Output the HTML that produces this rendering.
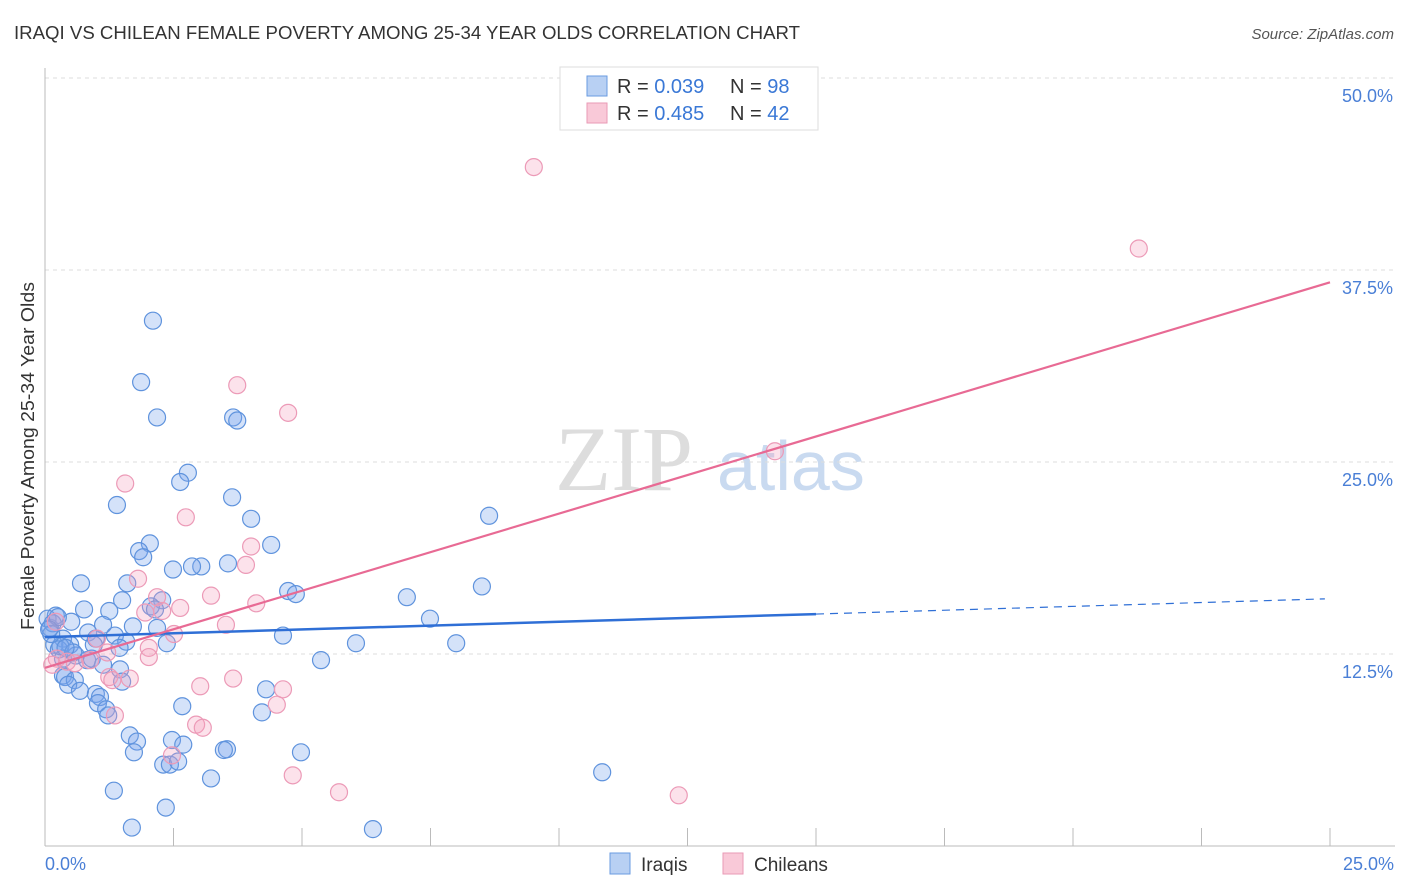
<!DOCTYPE html>
<html><head><meta charset="utf-8"><style>
body{margin:0;background:#fff;font-family:"Liberation Sans",sans-serif;}
svg{display:block}
</style></head><body>
<svg id="chart" width="1406" height="892">
<text x="14" y="39" font-size="18" fill="#333" textLength="786" lengthAdjust="spacingAndGlyphs">IRAQI VS CHILEAN FEMALE POVERTY AMONG 25-34 YEAR OLDS CORRELATION CHART</text>
<text x="1394" y="39" font-size="15" fill="#555" font-style="italic" text-anchor="end">Source: ZipAtlas.com</text>
<g>
<text x="555" y="490" font-size="92" fill="#ddd" font-family="Liberation Serif,serif">ZIP</text>
<text x="717" y="490" font-size="70" fill="#c9daf0">atlas</text>
</g>
<g id="grid"></g><g id="axes"></g><g id="marks"></g><g id="lines"></g>
<text transform="translate(34,456) rotate(-90)" font-size="18" fill="#333" text-anchor="middle" textLength="348" lengthAdjust="spacingAndGlyphs">Female Poverty Among 25-34 Year Olds</text>
<text x="45" y="870" font-size="18" fill="#4a7fd6">0.0%</text>
<text x="1394" y="870" font-size="18" fill="#4a7fd6" text-anchor="end">25.0%</text>
<g>
<rect x="560" y="67" width="258" height="63" fill="#fff" stroke="#ddd"/>
<rect x="587" y="76" width="20" height="20" fill="#b8d0f3" stroke="#6a9be0"/>
<rect x="587" y="103" width="20" height="20" fill="#f9c9d8" stroke="#e99ab6"/>
<text x="617" y="93" font-size="20" fill="#333">R = <tspan fill="#3a78d6">0.039</tspan></text>
<text x="730" y="93" font-size="20" fill="#333">N = <tspan fill="#3a78d6">98</tspan></text>
<text x="617" y="120" font-size="20" fill="#333">R = <tspan fill="#3a78d6">0.485</tspan></text>
<text x="730" y="120" font-size="20" fill="#333">N = <tspan fill="#3a78d6">42</tspan></text>
</g>
<g>
<rect x="610" y="853" width="20" height="21" fill="#b8d0f3" stroke="#6a9be0"/>
<text x="641" y="871" font-size="19" fill="#333">Iraqis</text>
<rect x="723" y="853" width="20" height="21" fill="#f9c9d8" stroke="#e99ab6"/>
<text x="754" y="871" font-size="19" fill="#333">Chileans</text>
</g>
</svg>
<script>
const yTicks=[12.5,25,37.5,50];
const yTickLabels=["12.5%","25.0%","37.5%","50.0%"];
const xTicks=[0,2.5,5,7.5,10,12.5,15,17.5,20,22.5,25];
const iraqiX=[2.10,1.87,2.18,3.66,3.74,2.78,2.63,3.64,1.40,4.01,8.64,2.04,1.83,1.91,4.40,3.56,3.04,2.49,2.86,0.70,1.60,8.50,4.73,4.88,7.04,1.50,2.28,1.25,2.06,2.14,0.76,0.21,0.51,1.13,7.49,1.71,2.18,0.84,1.36,0.99,0.10,0.35,1.58,2.37,4.63,6.05,8.0,0.18,0.49,0.27,0.60,0.82,0.91,0.35,1.13,5.37,1.46,0.35,0.39,0.58,1.50,0.45,0.68,0.99,1.07,4.30,1.03,1.19,2.67,1.23,4.22,1.65,1.79,2.47,2.69,3.54,3.48,1.73,4.98,2.30,2.43,2.59,3.23,10.84,1.34,2.35,1.69,6.38,0.05,0.15,0.30,0.12,0.55,0.95,1.45,0.25,0.08,0.40];
const iraqiY=[34.2,30.2,27.9,27.9,27.7,24.3,23.7,22.7,22.2,21.3,21.5,19.7,19.2,18.8,19.6,18.4,18.2,18.0,18.2,17.1,17.1,16.9,16.6,16.4,16.2,16.0,16.0,15.3,15.6,15.4,15.4,15.0,14.6,14.4,14.8,14.3,14.2,13.9,13.7,13.5,14.2,13.5,13.3,13.2,13.7,13.2,13.2,13.1,13.1,12.8,12.4,12.1,12.2,12.2,11.8,12.1,11.5,11.1,11.0,10.8,10.7,10.5,10.1,9.9,9.7,10.2,9.3,8.9,9.1,8.5,8.7,7.2,6.8,6.9,6.6,6.3,6.25,6.1,6.1,5.3,5.3,5.5,4.4,4.8,3.6,2.5,1.2,1.1,14.8,14.5,13.0,13.8,12.6,13.1,12.9,14.9,14.1,12.9];
const chileX=[9.51,21.28,3.74,4.73,14.2,1.56,2.74,4.01,3.91,1.81,3.23,2.18,4.11,2.63,2.28,1.95,3.52,0.21,2.51,1.01,2.02,1.21,0.23,0.43,0.58,0.14,0.88,2.02,1.25,1.65,1.31,3.66,3.02,4.63,4.51,1.36,2.94,3.07,2.47,4.82,5.72,12.33];
const chileY=[44.2,38.9,30.0,28.2,25.7,23.6,21.4,19.5,18.3,17.4,16.3,16.2,15.8,15.5,15.3,15.2,14.4,14.6,13.8,13.5,12.9,12.6,12.2,12.0,11.9,11.8,12.1,12.3,11.0,10.9,10.8,10.9,10.4,10.2,9.2,8.5,7.9,7.7,5.9,4.6,3.5,3.3];
const iraqiTrend=[13.6,16.1];
const chileTrend=[11.6,36.7];
const NS="http://www.w3.org/2000/svg";
const sx=v=>45+v*51.4, sy=v=>846-v*15.36;
function mk(t,a,p){const e=document.createElementNS(NS,t);for(const k in a)e.setAttribute(k,a[k]);p.appendChild(e);return e;}
const grid=document.getElementById('grid'),axes=document.getElementById('axes'),marks=document.getElementById('marks'),lines=document.getElementById('lines');
yTicks.forEach((t,i)=>{
 const l=mk('line',{x1:45,x2:1395,y1:sy(t),y2:sy(t),stroke:'#ddd','stroke-dasharray':'4,4'},grid);
 
 
 const tx=mk('text',{x:1393,y:sy(t)+24,'font-size':18,fill:'#4a7fd6','text-anchor':'end'},grid);
 tx.textContent=yTickLabels[i];
 
 
});
mk('line',{x1:45,x2:45,y1:68,y2:846,stroke:'#bbb'},axes);
mk('line',{x1:45,x2:1395,y1:846,y2:846,stroke:'#bbb'},axes);
xTicks.forEach(t=>{
 const l=mk('line',{x1:sx(t),x2:sx(t),y1:828,y2:846,stroke:'#bbb'},axes);
 
 
});
iraqiX.forEach((x,i)=>{
 const c=mk('circle',{cx:sx(x),cy:sy(iraqiY[i]),r:8.5,fill:'rgba(120,165,235,0.32)',stroke:'#5f93dd','stroke-width':1.2},marks);
 
 
});
chileX.forEach((x,i)=>{
 const c=mk('circle',{cx:sx(x),cy:sy(chileY[i]),r:8.5,fill:'rgba(245,160,190,0.3)',stroke:'#ec9ab7','stroke-width':1.2},marks);
 
 
});
const bAt=x=>iraqiTrend[0]+(iraqiTrend[1]-iraqiTrend[0])*x/25;
const b1=mk('line',{x1:sx(0),y1:sy(bAt(0)),x2:sx(15),y2:sy(bAt(15)),stroke:'#2f6fd6','stroke-width':2.5},lines);


const b2=mk('line',{x1:sx(15),y1:sy(bAt(15)),x2:sx(24.9),y2:sy(bAt(24.9)),stroke:'#2f6fd6','stroke-width':1.2,'stroke-dasharray':'8,6'},lines);


const p1=mk('line',{x1:sx(0),y1:sy(chileTrend[0]),x2:sx(25),y2:sy(chileTrend[1]),stroke:'#e86a94','stroke-width':2.2},lines);


</script>
</body></html>
